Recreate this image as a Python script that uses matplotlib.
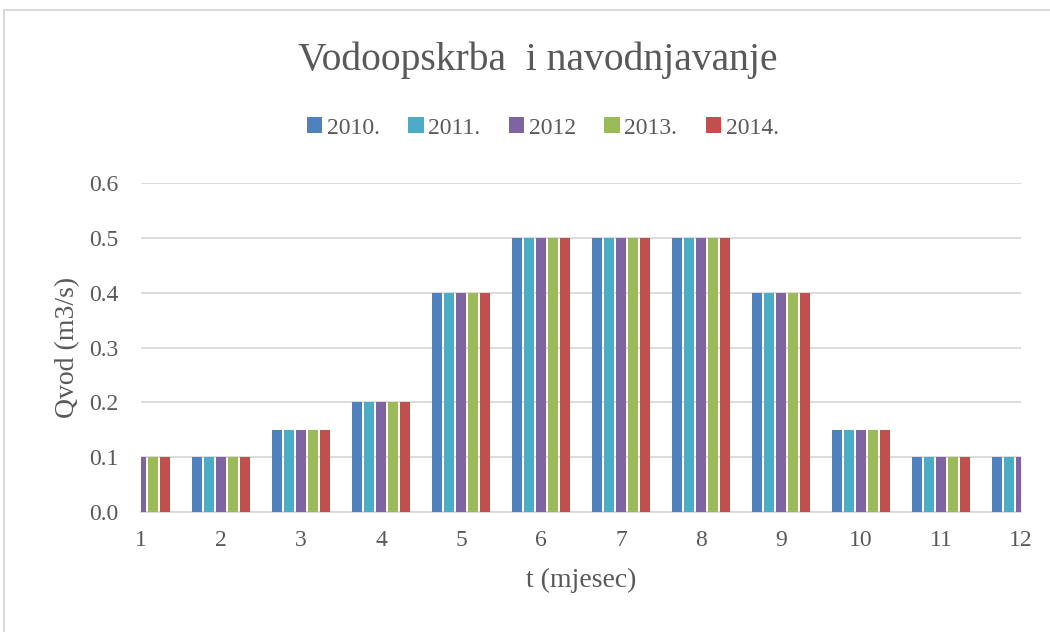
import matplotlib
matplotlib.use('Agg')
import matplotlib.pyplot as plt
import numpy as np
from matplotlib.patches import Rectangle

# podaci
mjeseci = np.arange(1, 13)
godine = ['2010.', '2011.', '2012', '2013.', '2014.']
q2010 = [0.1, 0.1, 0.15, 0.2, 0.4, 0.5, 0.5, 0.5, 0.4, 0.15, 0.1, 0.1]
q2011 = [0.1, 0.1, 0.15, 0.2, 0.4, 0.5, 0.5, 0.5, 0.4, 0.15, 0.1, 0.1]
q2012 = [0.1, 0.1, 0.15, 0.2, 0.4, 0.5, 0.5, 0.5, 0.4, 0.15, 0.1, 0.1]
q2013 = [0.1, 0.1, 0.15, 0.2, 0.4, 0.5, 0.5, 0.5, 0.4, 0.15, 0.1, 0.1]
q2014 = [0.1, 0.1, 0.15, 0.2, 0.4, 0.5, 0.5, 0.5, 0.4, 0.15, 0.1, 0.1]
boje = ['#4F81BD', '#4BACC6', '#8064A2', '#9BBB59', '#C0504D']

plt.rcParams['font.family'] = ['Liberation Serif', 'DejaVu Serif']
siva = '#595959'

fig = plt.figure(figsize=(10.5, 6.32), dpi=100)
ax = fig.add_axes([141/1050, 1-512/632, 880/1050, 329/632])

# okvir grafikona (samo lijevi i gornji rub vidljivi)
fig.patches.append(Rectangle((4/1050, -0.1), 1.2, 1-10/632+0.1, transform=fig.transFigure,
                             fill=False, edgecolor='#D9D9D9', linewidth=1.5))

korak = 0.148
sirina = 0.122
for i, (god, vals) in enumerate(zip(godine, [q2010, q2011, q2012, q2013, q2014])):
    ax.bar(mjeseci + (i-2)*korak, vals, width=sirina, color=boje[i], label=god, zorder=3)

ax.set_xlim(1, 12)
ax.set_ylim(0, 0.6)
ax.set_xticks(mjeseci)
ax.set_yticks(np.arange(0, 0.61, 0.1))
ax.set_yticklabels(['%.1f' % v for v in np.arange(0, 0.61, 0.1)])
ax.grid(axis='y', color='#D9D9D9', linewidth=1.3, zorder=0)
for s in ['top', 'right', 'left']:
    ax.spines[s].set_visible(False)
ax.spines['bottom'].set_color('#D9D9D9')
ax.spines['bottom'].set_linewidth(1.3)
ax.tick_params(length=0, labelsize=17, colors=siva)
ax.tick_params(axis='x', pad=13)
ax.tick_params(axis='y', pad=16)

ax.set_xlabel('t (mjesec)', fontsize=20, color=siva, labelpad=12)
ax.set_ylabel('Qvod (m3/s)', fontsize=20, color=siva, labelpad=7)

fig.text(0.512, 1-60/632, 'Vodoopskrba  i navodnjavanje', fontsize=28.5, color=siva,
         ha='center', va='center')
fig.legend(loc='center', bbox_to_anchor=(0.517, 1-128/632), ncol=5, frameon=False,
           fontsize=17, labelcolor=siva, handlelength=0.65, handleheight=0.65,
           handletextpad=0.2, columnspacing=1.2)

fig.savefig('out.png', dpi=100, facecolor='white')
